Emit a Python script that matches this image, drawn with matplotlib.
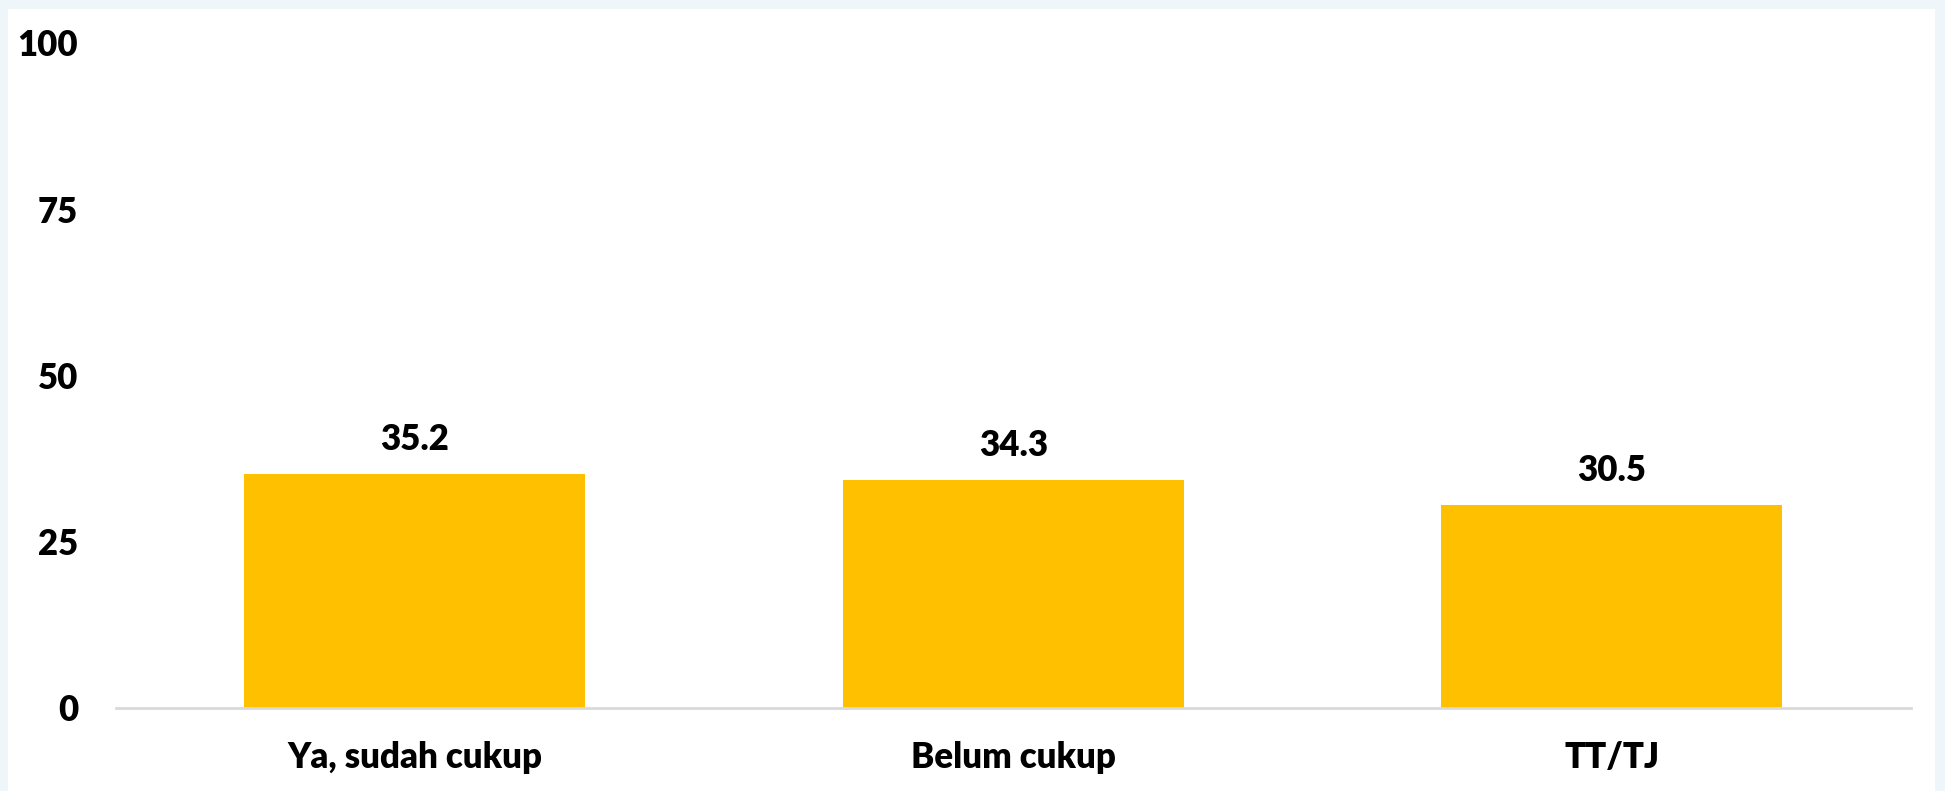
import matplotlib.pyplot as plt
from matplotlib.patches import Rectangle

# data
categories = ["Ya, sudah cukup", "Belum cukup", "TT/TJ"]
values = [35.2, 34.3, 30.5]
yticks = [0, 25, 50, 75, 100]

plt.rcParams['font.family'] = ['Lato', 'DejaVu Sans']

fig = plt.figure(figsize=(19.45, 7.91), dpi=100)
fig.patch.set_facecolor('#EEF6F9')

# white panel behind the chart
bg = fig.add_axes([0, 0, 1, 1], zorder=-5)
bg.axis('off')
bg.add_patch(Rectangle((8 / 1945, 0), (1935 - 8) / 1945, 1 - 9 / 791,
                       transform=bg.transAxes, facecolor='white', edgecolor='none'))

ax = fig.add_axes([0.0595, 0.105, 0.923, 0.841])
ax.set_facecolor('none')
x = range(len(categories))
bars = ax.bar(x, values, width=0.57, color='#FFC000', zorder=2)
for b, v in zip(bars, values):
    ax.annotate(f"{v:.1f}", (b.get_x() + b.get_width() / 2, v),
                xytext=(0, 13), textcoords='offset points',
                ha='center', va='bottom', fontsize=25, fontweight='heavy')

ax.set_xlim(-0.5, 2.5)
ax.set_ylim(0, 100)
ax.set_yticks(yticks)
ax.set_xticks(list(x))
ax.set_xticklabels(categories)
for s in ['top', 'right', 'left']:
    ax.spines[s].set_visible(False)
ax.spines['bottom'].set_color('#D9D9D9')
ax.spines['bottom'].set_linewidth(2)
ax.tick_params(axis='both', length=0, labelsize=25)
ax.tick_params(axis='y', pad=27)
ax.tick_params(axis='x', pad=24)
for lab in ax.get_xticklabels() + ax.get_yticklabels():
    lab.set_fontweight('heavy')

fig.savefig('out.png', dpi=100, facecolor=fig.get_facecolor())
